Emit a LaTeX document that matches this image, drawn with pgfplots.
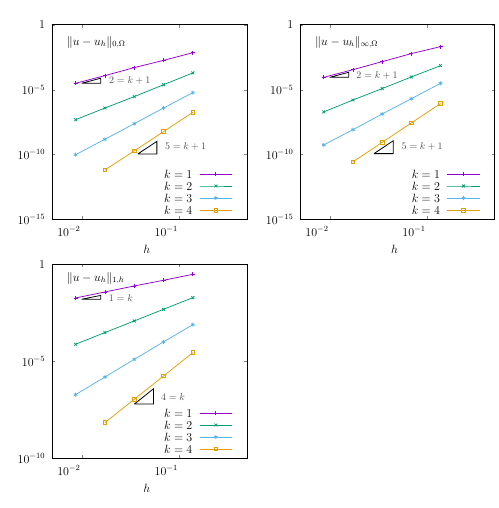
\documentclass[12pt,border=0pt]{standalone}
\usepackage{pgfplots}
\pgfplotsset{compat=1.18}

% gnuplot-like default line colours
\definecolor{gpviolet}{HTML}{9400D3}
\definecolor{gpgreen}{HTML}{009E73}
\definecolor{gpblue}{HTML}{56B4E9}
\definecolor{gporange}{HTML}{E69F00}
% separately defined shades for the key samples of the last panel
\definecolor{keyviolet}{HTML}{9501D2}
\definecolor{keygreen}{HTML}{019F72}
\definecolor{keyblue}{HTML}{57B5E8}
\definecolor{keyorange}{HTML}{E59E01}

\pgfplotsset{
  every axis/.append style={
    xmode=log, ymode=log,
    scale only axis,
    xmin=0.005, xmax=0.5,
    xtick={0.01,0.1}, xticklabels={$10^{-2}$,$10^{-1}$},
    minor tick length=0pt,
    major tick length=3pt,
    axis line style={line width=1pt},
    xticklabel style={anchor=north east, xshift=3pt, yshift=-3pt},
    yticklabel style={xshift=-3pt},
    xlabel={$h$},
    xlabel style={at={(axis description cs:0.485,0)}, anchor=center, yshift=-30pt},
  },
  kone/.style={draw=gpviolet, line width=0.75pt, mark=+, mark size=2pt, mark options={solid, draw=gpviolet}},
  ktwo/.style={draw=gpgreen, line width=0.75pt, mark=x, mark size=2pt, mark options={solid, draw=gpgreen}},
  kthree/.style={draw=gpblue, line width=0.75pt, mark=asterisk, mark size=2pt, mark options={solid, draw=gpblue}},
  kfour/.style={draw=gporange, line width=0.75pt, mark=square, mark size=1.8pt, mark options={solid, draw=gporange}},
  kkone/.style={draw=keyviolet, line width=0.75pt, mark=+, mark size=2pt, mark options={solid, draw=keyviolet}},
  kktwo/.style={draw=keygreen, line width=0.75pt, mark=x, mark size=2pt, mark options={solid, draw=keygreen}},
  kkthree/.style={draw=keyblue, line width=0.75pt, mark=asterisk, mark size=2pt, mark options={solid, draw=keyblue}},
  kkfour/.style={draw=keyorange, line width=0.75pt, mark=square, mark size=1.8pt, mark options={solid, draw=keyorange}},
  slope/.style={draw=black, line width=0.8pt},
  % key sample: short line with a single mark in its middle
  key/.style={mark repeat=2, mark phase=2},
}
\tikzset{
  slopelabel/.style={anchor=west, text opacity=0.7, font=\fontsize{10}{12}\selectfont},
  normlabel/.style={anchor=west},
  keylabel/.style={anchor=east, inner sep=0pt},
}
% key sample x positions: line from 0.163 to 0.3515, mark at 0.2394; labels end at 0.138

\begin{document}
\begin{tikzpicture}
\useasboundingbox (0pt,0pt) rectangle (498pt,508pt);

% ---------------- L2 error ----------------
\begin{axis}[
  at={(52.3pt,288.7pt)}, anchor=south west,
  width=194.7pt, height=194.3pt,
  ymin=1e-15, ymax=1,
  ytick={1e-15,1e-10,1e-5,1},
  yticklabels={$10^{-15}$,$10^{-10}$,$10^{-5}$,$1$}]
% key
\addplot[kone,key] coordinates {(0.163,3.12e-12) (0.2394,3.12e-12) (0.3515,3.12e-12)};
\addplot[ktwo,key] coordinates {(0.163,3.72e-13) (0.2394,3.72e-13) (0.3515,3.72e-13)};
\addplot[kthree,key] coordinates {(0.163,4.37e-14) (0.2394,4.37e-14) (0.3515,4.37e-14)};
\addplot[kfour,key] coordinates {(0.163,5.13e-15) (0.2394,5.13e-15) (0.3515,5.13e-15)};
% errors
\addplot[kone] coordinates {(0.00868,3.16e-5) (0.01736,1.23e-4) (0.03472,5.13e-4) (0.06944,1.86e-3) (0.1389,7.24e-3)};
\addplot[ktwo] coordinates {(0.00868,4.90e-8) (0.01736,3.89e-7) (0.03472,2.95e-6) (0.06944,2.45e-5) (0.1389,2.00e-4)};
\addplot[kthree] coordinates {(0.00868,9.77e-11) (0.01736,1.51e-9) (0.03472,2.40e-8) (0.06944,3.89e-7) (0.1389,6.03e-6)};
\addplot[kfour] coordinates {(0.01736,6.46e-12) (0.03472,1.91e-10) (0.06944,5.89e-9) (0.1389,1.82e-7)};
% slope triangles
\addplot[slope] coordinates {(0.01,3.16e-5) (0.0157,3.16e-5) (0.0157,7.79e-5) (0.01,3.16e-5)};
\addplot[slope] coordinates {(0.0378,1.1e-10) (0.0593,1.1e-10) (0.0593,1.04e-9) (0.0378,1.1e-10)};
\node[slopelabel] at (axis cs:0.0174,4.8e-5) {$2=k+1$};
\node[slopelabel] at (axis cs:0.0652,4.07e-10) {$5=k+1$};
\node[normlabel] at (rel axis cs:0.053,0.911) {$\|u-u_h\|_{0,\Omega}$};
\node[keylabel] at (axis cs:0.138,3.12e-12) {$k=1$};
\node[keylabel] at (axis cs:0.138,3.72e-13) {$k=2$};
\node[keylabel] at (axis cs:0.138,4.37e-14) {$k=3$};
\node[keylabel] at (axis cs:0.138,5.13e-15) {$k=4$};
\end{axis}

% ---------------- max error ----------------
\begin{axis}[
  at={(300.5pt,288.7pt)}, anchor=south west,
  width=194pt, height=194.3pt,
  ymin=1e-15, ymax=1,
  ytick={1e-15,1e-10,1e-5,1},
  yticklabels={$10^{-15}$,$10^{-10}$,$10^{-5}$,$1$}]
% key
\addplot[kone,key] coordinates {(0.163,3.12e-12) (0.2394,3.12e-12) (0.3515,3.12e-12)};
\addplot[ktwo,key] coordinates {(0.163,3.72e-13) (0.2394,3.72e-13) (0.3515,3.72e-13)};
\addplot[kthree,key] coordinates {(0.163,4.37e-14) (0.2394,4.37e-14) (0.3515,4.37e-14)};
\addplot[kfour,key] coordinates {(0.163,5.13e-15) (0.2394,5.13e-15) (0.3515,5.13e-15)};
% errors
\addplot[kone] coordinates {(0.00868,9.12e-5) (0.01736,3.55e-4) (0.03472,1.48e-3) (0.06944,6.17e-3) (0.1389,2.14e-2)};
\addplot[ktwo] coordinates {(0.00868,1.95e-7) (0.01736,1.62e-6) (0.03472,1.23e-5) (0.06944,9.77e-5) (0.1389,7.24e-4)};
\addplot[kthree] coordinates {(0.00868,5.50e-10) (0.01736,8.32e-9) (0.03472,1.35e-7) (0.06944,2.04e-6) (0.1389,3.16e-5)};
\addplot[kfour] coordinates {(0.01736,2.69e-11) (0.03472,8.71e-10) (0.06944,2.75e-8) (0.1389,8.51e-7)};
% slope triangles
\addplot[slope] coordinates {(0.01,9.1e-5) (0.0157,9.1e-5) (0.0157,2.24e-4) (0.01,9.1e-5)};
\addplot[slope] coordinates {(0.0286,1.17e-10) (0.0453,1.17e-10) (0.0453,1.17e-9) (0.0286,1.17e-10)};
\node[slopelabel] at (axis cs:0.0171,1.32e-4) {$2=k+1$};
\node[slopelabel] at (axis cs:0.0499,4.07e-10) {$5=k+1$};
\node[normlabel] at (rel axis cs:0.054,0.911) {$\|u-u_h\|_{\infty,\Omega}$};
\node[keylabel] at (axis cs:0.138,3.12e-12) {$k=1$};
\node[keylabel] at (axis cs:0.138,3.72e-13) {$k=2$};
\node[keylabel] at (axis cs:0.138,4.37e-14) {$k=3$};
\node[keylabel] at (axis cs:0.138,5.13e-15) {$k=4$};
\end{axis}

% ---------------- broken H1 error ----------------
\begin{axis}[
  at={(52.3pt,49.7pt)}, anchor=south west,
  width=194.7pt, height=194pt,
  ymin=1e-10, ymax=1,
  ytick={1e-10,1e-5,1},
  yticklabels={$10^{-10}$,$10^{-5}$,$1$}]
% key
\addplot[kkone,key] coordinates {(0.163,2.16e-8) (0.2394,2.16e-8) (0.3515,2.16e-8)};
\addplot[kktwo,key] coordinates {(0.163,5.20e-9) (0.2394,5.20e-9) (0.3515,5.20e-9)};
\addplot[kkthree,key] coordinates {(0.163,1.25e-9) (0.2394,1.25e-9) (0.3515,1.25e-9)};
\addplot[kkfour,key] coordinates {(0.163,3.01e-10) (0.2394,3.01e-10) (0.3515,3.01e-10)};
% errors
\addplot[kone] coordinates {(0.00868,1.84e-2) (0.01736,3.75e-2) (0.03472,7.64e-2) (0.06944,0.150) (0.1389,0.305)};
\addplot[ktwo] coordinates {(0.00868,7.59e-5) (0.01736,3.02e-4) (0.03472,1.20e-3) (0.06944,4.79e-3) (0.1389,1.91e-2)};
\addplot[kthree] coordinates {(0.00868,1.91e-7) (0.01736,1.55e-6) (0.03472,1.26e-5) (0.06944,1.00e-4) (0.1389,7.76e-4)};
\addplot[kfour] coordinates {(0.01736,6.92e-9) (0.03472,1.10e-7) (0.06944,1.74e-6) (0.1389,2.82e-5)};
% slope triangles
\addplot[slope] coordinates {(0.01,1.58e-2) (0.0157,1.58e-2) (0.0157,2.48e-2) (0.01,1.58e-2)};
\addplot[slope] coordinates {(0.0349,6.31e-8) (0.0548,6.31e-8) (0.0548,3.84e-7) (0.0349,6.31e-8)};
\node[slopelabel] at (axis cs:0.0173,1.84e-2) {$1=k$};
\node[slopelabel] at (axis cs:0.0593,1.51e-7) {$4=k$};
\node[normlabel] at (rel axis cs:0.053,0.928) {$\|u-u_h\|_{1,h}$};
\node[keylabel] at (axis cs:0.138,2.16e-8) {$k=1$};
\node[keylabel] at (axis cs:0.138,5.20e-9) {$k=2$};
\node[keylabel] at (axis cs:0.138,1.25e-9) {$k=3$};
\node[keylabel] at (axis cs:0.138,3.01e-10) {$k=4$};
\end{axis}
\end{tikzpicture}
\end{document}
